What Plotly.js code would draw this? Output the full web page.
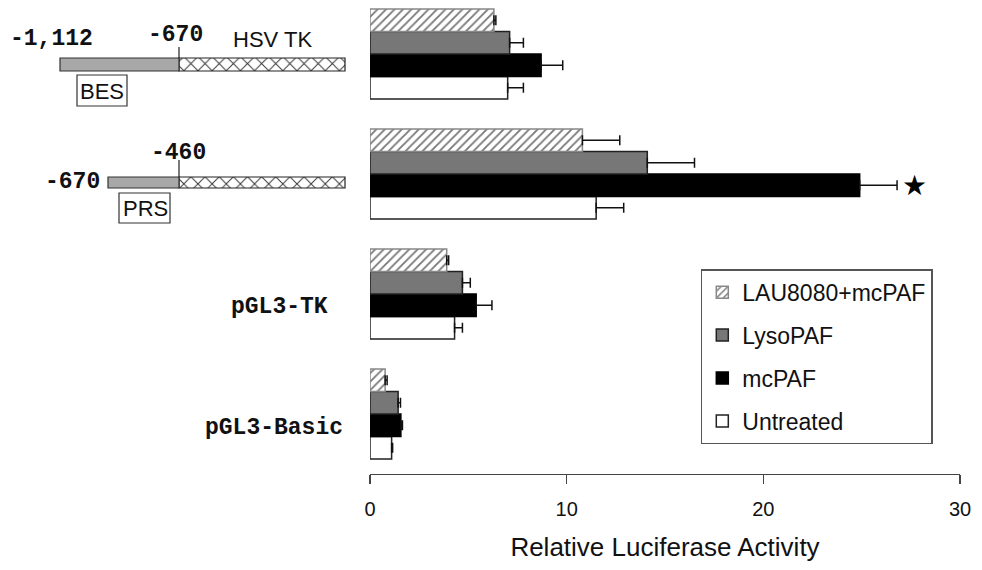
<!DOCTYPE html>
<html>
<head>
<meta charset="utf-8">
<script src="https://cdn.plot.ly/plotly-3.0.1.min.js"></script>
<style>html,body{margin:0;padding:0;background:#fff;}#chart{width:982px;height:570px;}</style>
</head>
<body>
<div id="chart"></div>
<script>
// ---- data ----
const categories = ['pGL3-Basic', 'pGL3-TK', 'PRS', 'BES'];
const untreated = [1.1, 4.3, 11.5, 7.0];
const untreatedErr = [0.05, 0.4, 1.4, 0.8];
const mcPAF = [1.57, 5.4, 24.9, 8.7];
const mcPAFErr = [0.08, 0.8, 1.9, 1.1];
const lysoPAF = [1.43, 4.7, 14.1, 7.1];
const lysoPAFErr = [0.12, 0.4, 2.4, 0.7];
const lau = [0.77, 3.9, 10.8, 6.3];
const lauErr = [0.1, 0.1, 1.9, 0.1];
const xTicks = [0, 10, 20, 30];
const seriesNames = ['Untreated', 'mcPAF', 'LysoPAF', 'LAU8080+mcPAF'];

const SANS = '"Liberation Sans", Arial, sans-serif';
const NARROW = '"Liberation Sans Narrow", "Liberation Sans", Arial, sans-serif';
const MONO = '"Liberation Mono", "Courier New", monospace';

function errX(arr) {
  return {type: 'data', symmetric: false, array: arr, arrayminus: arr.map(() => 0),
          color: '#111', thickness: 1.5, width: 5};
}
function barTrace(name, vals, errs, marker, grp, rank) {
  return {type: 'bar', orientation: 'h', name: name, x: vals, y: categories,
          xaxis: 'x', yaxis: 'y', marker: marker, error_x: errX(errs),
          legendgroup: grp, legendrank: rank, hoverinfo: 'skip'};
}

const traces = [
  barTrace(seriesNames[0], untreated, untreatedErr, {color: '#ffffff', line: {color: '#222', width: 1.5}}, 'd', 4),
  barTrace(seriesNames[1], mcPAF, mcPAFErr, {color: '#000000', line: {color: '#000', width: 1.5}}, 'c', 3),
  barTrace(seriesNames[2], lysoPAF, lysoPAFErr, {color: '#777777', line: {color: '#222', width: 1.5}}, 'b', 2),
  barTrace(seriesNames[3], lau, lauErr, {color: '#ffffff', line: {color: '#888', width: 1.5},
     pattern: {shape: '/', fgcolor: '#777', bgcolor: '#ffffff', size: 6, solidity: 0.3}}, 'a', 1),
  // HSV TK cross-hatched segments in the promoter diagrams (decorative)
  {type: 'bar', orientation: 'h', xaxis: 'x2', yaxis: 'y2', showlegend: false, hoverinfo: 'skip',
   y: [64.5, 182.5], base: [179, 179], x: [166, 166], width: [13, 11],
   marker: {color: '#ffffff', line: {color: '#222', width: 1.2},
            pattern: {shape: 'x', fgcolor: '#333', bgcolor: '#ffffff', size: 10, solidity: 0.18}}}
];

const shapes = [
  {type: 'rect', xref: 'x2', yref: 'y2', x0: 60, x1: 179, y0: 58, y1: 71, fillcolor: '#a8a8a8', line: {color: '#333', width: 1.2}},
  {type: 'rect', xref: 'x2', yref: 'y2', x0: 108, x1: 179, y0: 177, y1: 188, fillcolor: '#a8a8a8', line: {color: '#333', width: 1.2}},
  {type: 'line', xref: 'x2', yref: 'y2', x0: 179, x1: 179, y0: 47, y1: 58, line: {color: '#222', width: 1.2}},
  {type: 'line', xref: 'x2', yref: 'y2', x0: 179, x1: 179, y0: 160, y1: 177, line: {color: '#222', width: 1.2}},
  {type: 'rect', xref: 'x2', yref: 'y2', x0: 77, x1: 127, y0: 75, y1: 106, fillcolor: 'rgba(0,0,0,0)', line: {color: '#333', width: 1.2}},
  {type: 'rect', xref: 'x2', yref: 'y2', x0: 119, x1: 170, y0: 193, y1: 223, fillcolor: 'rgba(0,0,0,0)', line: {color: '#333', width: 1.2}}
];

function ann(text, x, y, font, extra) {
  return Object.assign({xref: 'x2', yref: 'y2', x: x, y: y, text: text, showarrow: false,
                        xanchor: 'center', yanchor: 'middle', font: font}, extra || {});
}
const monoFont = {family: MONO, size: 23, color: '#111', weight: 'bold'};
const sansFont = {family: SANS, size: 22, color: '#111'};
const annotations = [
  ann('-1,112', 51, 39, monoFont),
  ann('-670', 175, 35, monoFont),
  ann('HSV TK', 272, 39, sansFont),
  ann('BES', 102, 91, sansFont),
  ann('-460', 178, 153, monoFont),
  ann('-670', 72, 182, monoFont),
  ann('PRS', 145, 208, sansFont),
  ann(categories[1], 279, 307, monoFont),
  ann(categories[0], 274, 428, monoFont),
  {xref: 'x', yref: 'y', x: 27.7, y: categories[2], yshift: -11, text: '★', showarrow: false,
   xanchor: 'center', yanchor: 'middle', font: {family: '"DejaVu Sans", sans-serif', size: 28, color: '#000'}}
];

const layout = {
  width: 982, height: 570,
  margin: {l: 0, r: 22, t: 0, b: 96},
  paper_bgcolor: '#ffffff', plot_bgcolor: 'rgba(0,0,0,0)',
  barmode: 'group', bargap: 0.25, bargroupgap: 0,
  showlegend: true,
  legend: {x: 0.730, y: 0.432, xanchor: 'left', yanchor: 'top', traceorder: 'grouped',
           tracegroupgap: 10, bordercolor: '#555', borderwidth: 1.5, bgcolor: '#ffffff',
           entrywidth: 215, entrywidthmode: 'pixels',
           font: {family: SANS, size: 23, color: '#111'}},
  xaxis: {domain: [370 / 960, 1], range: [0, 30], anchor: 'y', tickvals: xTicks,
          ticks: 'outside', ticklen: 9, tickwidth: 1.2, tickcolor: '#444',
          showline: true, linecolor: '#444', linewidth: 1.2, showgrid: false, zeroline: false,
          ticklabelstandoff: 8,
          tickfont: {family: NARROW, size: 20, color: '#111'},
          title: {text: 'Relative Luciferase Activity', standoff: 18, font: {family: SANS, size: 26, color: '#111'}}},
  yaxis: {type: 'category', categoryorder: 'array', categoryarray: categories, range: [-0.5, 3.45],
          anchor: 'x', showline: false, showticklabels: false, ticks: '', showgrid: false, zeroline: false},
  xaxis2: {domain: [0, 370 / 960], range: [0, 370], anchor: 'y2', visible: false, fixedrange: true},
  yaxis2: {domain: [0, 1], range: [474, 0], anchor: 'x2', visible: false, fixedrange: true},
  shapes: shapes,
  annotations: annotations
};

Plotly.newPlot('chart', traces, layout, {displayModeBar: false, staticPlot: true});
</script>
</body>
</html>
